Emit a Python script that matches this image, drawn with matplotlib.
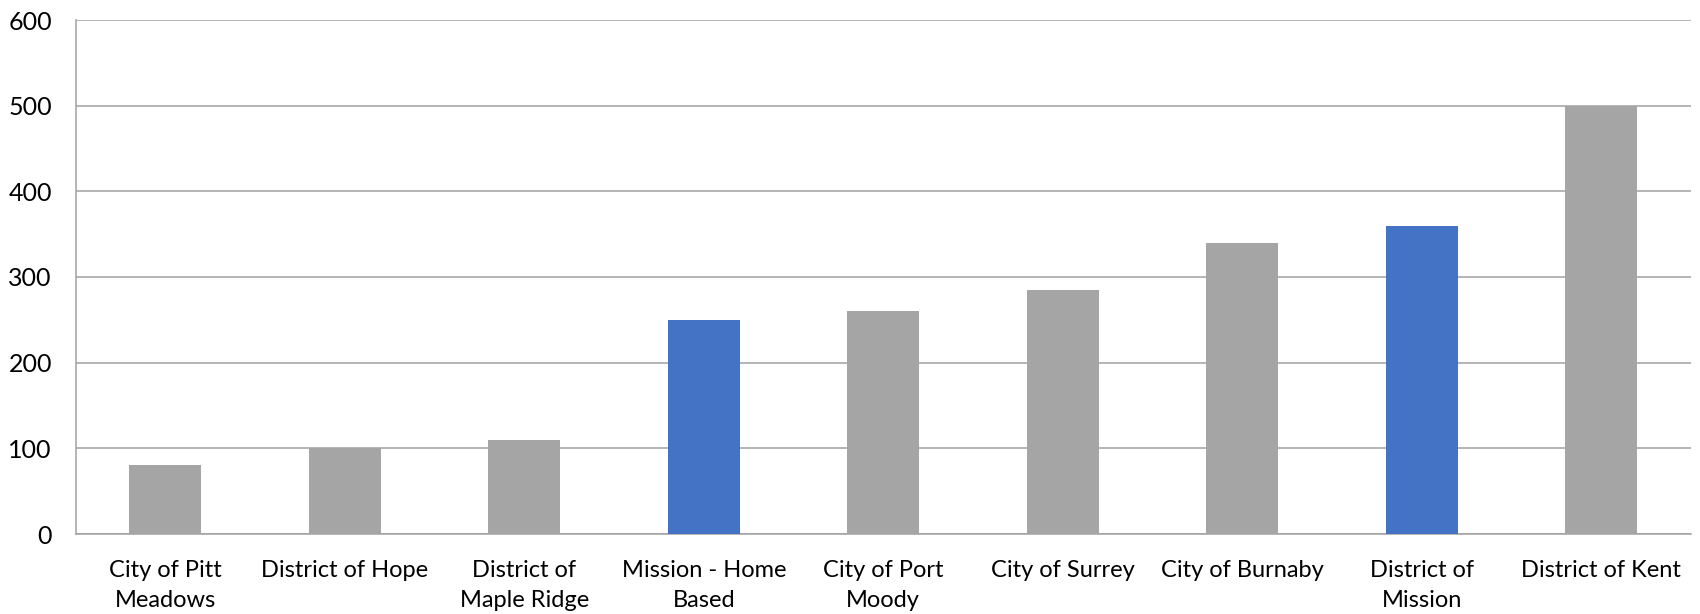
import matplotlib
matplotlib.use("Agg")
import matplotlib.pyplot as plt

categories = ["City of Pitt\nMeadows", "District of Hope", "District of\nMaple Ridge",
              "Mission - Home\nBased", "City of Port\nMoody", "City of Surrey",
              "City of Burnaby", "District of\nMission", "District of Kent"]
values = [80, 100, 110, 250, 260, 285, 340, 360, 500]
highlight = [False, False, False, True, False, False, False, True, False]
yticks = [0, 100, 200, 300, 400, 500, 600]

plt.rcParams['font.family'] = ['Lato', 'DejaVu Sans']

fig = plt.figure(figsize=(17, 6.14), dpi=100)
ax = fig.add_axes([75.5/1700, 1 - 534/614, (1691 - 75.5)/1700, (534 - 20)/614])

colors = ["#4472C4" if h else "#A5A5A5" for h in highlight]
x = list(range(len(categories)))
ax.bar(x, values, width=0.4, color=colors, zorder=3)
ax.set_xlim(-0.5, len(categories) - 0.5)
ax.set_ylim(0, 600)
ax.set_yticks(yticks)
ax.set_yticklabels([str(t) for t in yticks], fontsize=18)
ax.set_xticks(x)
ax.set_xticklabels(categories, fontsize=17, linespacing=1.5)
ax.yaxis.grid(True, color="#A0A0A0", linewidth=1.1, zorder=0)
ax.tick_params(axis='both', length=0)
ax.tick_params(axis='y', pad=17)
ax.tick_params(axis='x', pad=19)
for s in ['top', 'right']:
    ax.spines[s].set_visible(False)
for s in ['left', 'bottom']:
    ax.spines[s].set_color("#A0A0A0")
    ax.spines[s].set_linewidth(1.1)

fig.savefig("out.png", dpi=100)
